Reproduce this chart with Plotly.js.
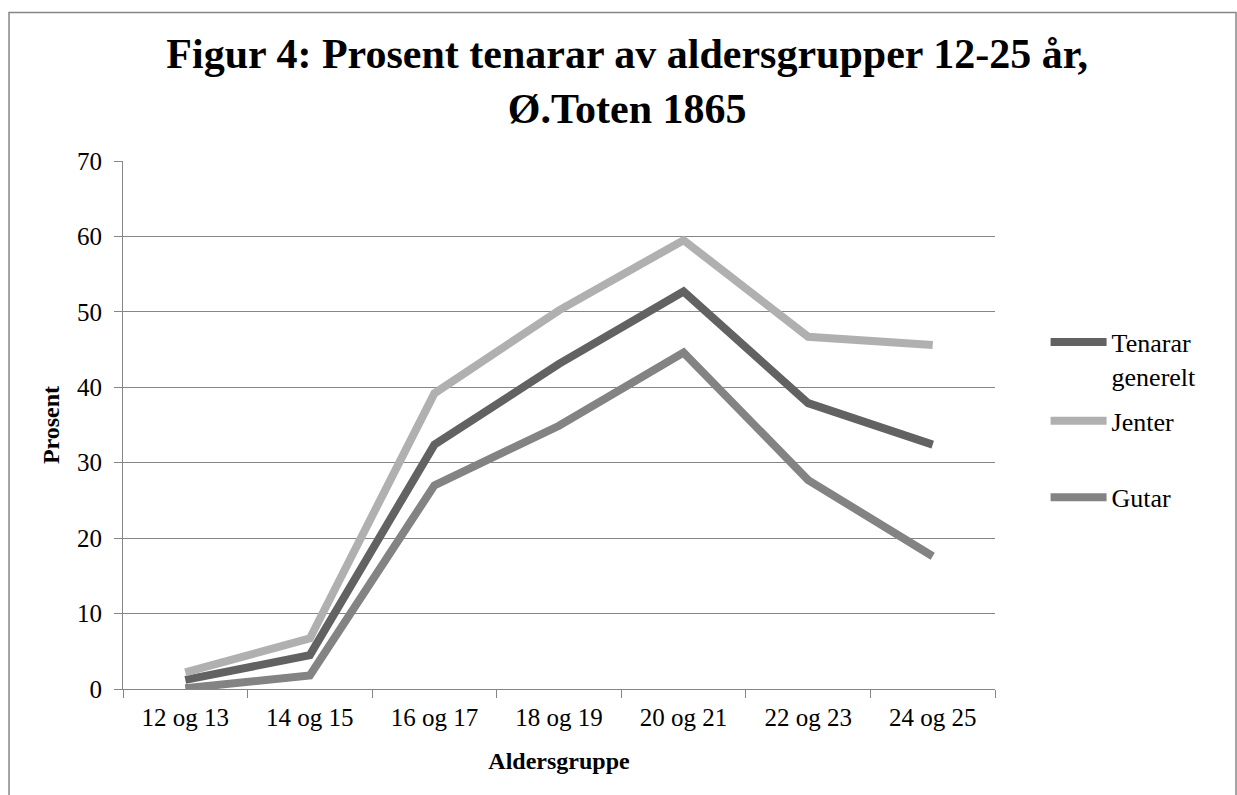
<!DOCTYPE html>
<html>
<head>
<meta charset="utf-8">
<script src="https://cdn.plot.ly/plotly-3.0.1.min.js"></script>
<style>html,body{margin:0;padding:0;background:#fff;}#chart{width:1237px;height:795px;}</style>
</head>
<body>
<div id="chart"></div>
<script>
const categories = ["12 og 13", "14 og 15", "16 og 17", "18 og 19", "20 og 21", "22 og 23", "24 og 25"];
const tenarar = [1.2, 4.5, 32.4, 43.1, 52.7, 37.9, 32.4];
const jenter = [2.2, 6.7, 39.2, 50.2, 59.5, 46.7, 45.6];
const gutar = [0.1, 1.8, 27.0, 34.9, 44.6, 27.7, 17.6];
const seriesNames = ["Tenarar<br>generelt", "Jenter", "Gutar"];

const serif = '"Liberation Serif", "Times New Roman", serif';
const gray = '#868686';

const traces = [
  {x: categories, y: tenarar, name: seriesNames[0], type: 'scatter', mode: 'lines',
   line: {color: '#626262', width: 8}, legend: 'legend'},
  {x: categories, y: jenter, name: seriesNames[1], type: 'scatter', mode: 'lines',
   line: {color: '#b0b0b0', width: 8}, legend: 'legend2'},
  {x: categories, y: gutar, name: seriesNames[2], type: 'scatter', mode: 'lines',
   line: {color: '#838383', width: 8}, legend: 'legend3'}
];

const legendBase = {xref: 'paper', yref: 'paper', x: 1.058, xanchor: 'left', yanchor: 'middle',
  font: {family: serif, size: 26, color: '#000'}, bgcolor: 'rgba(0,0,0,0)', valign: 'top', itemwidth: 56};

const layout = {
  width: 1237, height: 795,
  margin: {l: 123, r: 242, t: 161, b: 106},
  paper_bgcolor: '#fff', plot_bgcolor: '#fff',
  font: {family: serif, color: '#000'},
  title: {
    text: '<b>Figur 4: Prosent tenarar av aldersgrupper 12-25 år,<br>Ø.Toten 1865</b>',
    font: {family: serif, size: 42, color: '#000'},
    xref: 'container', x: 0.507, xanchor: 'center',
    yref: 'container', y: 0.914, yanchor: 'top'
  },
  xaxis: {
    type: 'category', range: [-0.5, 6.5], tickson: 'boundaries',
    ticks: 'outside', ticklen: 8, tickcolor: gray, tickwidth: 1,
    showline: true, linecolor: gray, linewidth: 1, showgrid: false,
    ticklabelstandoff: 6,
    tickfont: {family: serif, size: 25, color: '#000'},
    title: {text: '<b>Aldersgruppe</b>', font: {family: serif, size: 24, color: '#000'}, standoff: 22},
    fixedrange: true
  },
  yaxis: {
    range: [0, 70], dtick: 10, tick0: 0,
    ticks: 'outside', ticklen: 8, tickcolor: gray, tickwidth: 1,
    showline: true, linecolor: gray, linewidth: 1,
    showgrid: true, gridcolor: gray, gridwidth: 1, zeroline: false,
    ticklabelstandoff: 7,
    tickfont: {family: serif, size: 25, color: '#000'},
    title: {text: '<b>Prosent</b>', font: {family: serif, size: 24, color: '#000'}, standoff: 10},
    fixedrange: true
  },
  legend: Object.assign({}, legendBase, {y: 0.625}),
  legend2: Object.assign({}, legendBase, {y: 0.508}),
  legend3: Object.assign({}, legendBase, {y: 0.363}),
  shapes: [{
    type: 'rect', xref: 'paper', yref: 'paper',
    x0: -0.1307, x1: 1.2764, y0: -0.25, y1: 1.2813,
    line: {color: gray, width: 1.5}, fillcolor: 'rgba(0,0,0,0)', layer: 'below'
  }],
  showlegend: true
};

Plotly.newPlot('chart', traces, layout, {displayModeBar: false, staticPlot: true});
</script>
</body>
</html>
